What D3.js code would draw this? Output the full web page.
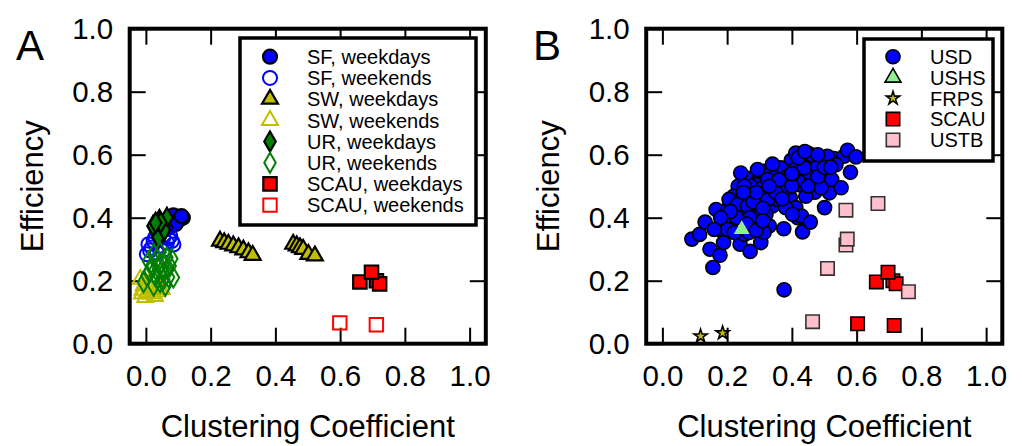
<!DOCTYPE html>
<html>
<head>
<meta charset="utf-8">
<script src="https://cdn.jsdelivr.net/npm/d3@7"></script>
<style>
  html, body { margin: 0; padding: 0; background: #fff; }
  svg { display: block; font-family: "Liberation Sans", Arial, Helvetica, sans-serif; }
</style>
</head>
<body>
<svg id="chart" width="1022" height="446"></svg>
<script>
// ---------------- DATA ----------------
const xTicks = [0, 0.2, 0.4, 0.6, 0.8, 1.0];
const yTicks = [0, 0.2, 0.4, 0.6, 0.8, 1.0];
const xTitle = "Clustering Coefficient";
const yTitle = "Efficiency";

// Panel A
const sfWeekdays = [[0.080,0.395],[0.096,0.403],[0.106,0.397],[0.090,0.389],[0.070,0.382],[0.085,0.407],[0.114,0.400],[0.100,0.392],
                    [0.075,0.372],[0.092,0.380],[0.110,0.405],[0.060,0.365]];
const sfWeekends = [[0.003,0.284],[0.008,0.316],[0.024,0.326],[0.044,0.311],[0.065,0.321],[0.080,0.326],[0.034,0.289],[0.054,0.337],
                    [0.018,0.305],[0.075,0.342],[0.013,0.296],[0.029,0.338],[0.059,0.300],[0.070,0.335],[0.040,0.345],[0.085,0.315]];
const swWeekdays = [[0.229,0.326],[0.242,0.321],[0.255,0.316],[0.270,0.311],[0.286,0.305],[0.301,0.298],[0.317,0.289],[0.330,0.281],
                    [0.455,0.316],[0.466,0.311],[0.476,0.305],[0.486,0.300],[0.502,0.284],[0.522,0.279]];
const swWeekends = [[-0.012,0.158],[0.003,0.163],[0.018,0.158],[0.034,0.165],[0.049,0.172],[-0.007,0.184],[0.013,0.174],[-0.017,0.205],
                    [-0.002,0.147],[0.028,0.150],[0.008,0.190],[0.040,0.180],[-0.010,0.170]];
const urWeekdays = [[0.042,0.393],[0.029,0.363],[0.054,0.374],[0.034,0.353],[0.065,0.400],[0.049,0.353],[0.022,0.374],
                    [0.038,0.338],[0.057,0.360],[0.046,0.385],[0.030,0.384]];
const urWeekends = [[0.003,0.216],[0.018,0.247],[0.034,0.268],[0.054,0.226],[0.070,0.211],[0.065,0.274],[0.044,0.195],[0.024,0.184],
                    [0.039,0.237],[0.075,0.247],[-0.007,0.195],[0.060,0.184],[0.049,0.258],[0.029,0.216],[0.013,0.230],
                    [0.024,0.285],[0.044,0.290],[0.080,0.270],[0.085,0.210],[0.008,0.262],[0.055,0.205],[0.035,0.205],[0.068,0.240]];
const scauWeekdays = [[0.661,0.196],[0.712,0.200],[0.722,0.190],[0.697,0.227]];
const scauWeekends = [[0.599,0.066],[0.712,0.060]];

// Panel B
const usd = [[0.091,0.332],[0.115,0.347],[0.132,0.386],[0.147,0.300],[0.156,0.242],[0.178,0.281],[0.166,0.426],[0.172,0.363],
  [0.189,0.321],[0.203,0.428],[0.211,0.382],[0.240,0.316],[0.271,0.293],[0.304,0.321],[0.306,0.382],[0.253,0.347],[0.278,0.421],
  [0.302,0.458],[0.265,0.479],[0.261,0.526],[0.234,0.500],[0.220,0.468],[0.191,0.395],[0.299,0.521],[0.314,0.547],[0.345,0.505],
  [0.340,0.437],[0.330,0.374],[0.375,0.365],[0.361,0.542],[0.387,0.552],[0.395,0.463],[0.412,0.432],[0.418,0.400],[0.430,0.405],
  [0.433,0.355],[0.457,0.386],[0.421,0.505],[0.430,0.544],[0.449,0.605],[0.464,0.565],[0.471,0.481],[0.499,0.542],[0.501,0.432],
  [0.516,0.479],[0.523,0.521],[0.552,0.495],[0.490,0.588],[0.530,0.588],[0.561,0.595],[0.572,0.614],[0.581,0.544],[0.598,0.593],
  [0.398,0.582],[0.423,0.573],[0.366,0.558],[0.335,0.542],[0.289,0.505],[0.253,0.458],[0.242,0.416],[0.278,0.374],[0.320,0.411],
  [0.356,0.458],[0.376,0.489],[0.443,0.468],[0.459,0.521],[0.490,0.495],[0.412,0.605],[0.438,0.584],[0.469,0.589],[0.510,0.595],
  [0.536,0.568],[0.206,0.458],[0.232,0.442],[0.263,0.437],[0.294,0.405],[0.325,0.458],[0.314,0.500],[0.273,0.500],[0.294,0.553],
  [0.242,0.542],[0.201,0.363],[0.222,0.353],[0.268,0.353],[0.314,0.353],[0.160,0.363],[0.253,0.500],[0.325,0.521],[0.387,0.531],
  [0.407,0.552],[0.438,0.515],[0.381,0.432],[0.402,0.411],[0.454,0.542],[0.479,0.563],[0.438,0.558],[0.376,0.171],
  [0.280,0.450],[0.350,0.480],[0.310,0.430],[0.270,0.400],[0.230,0.400],[0.360,0.520],[0.400,0.500],[0.450,0.500],[0.480,0.530],
  [0.500,0.560],[0.420,0.590],[0.460,0.600],[0.340,0.570],[0.290,0.480],[0.250,0.480],[0.210,0.420],[0.180,0.400],[0.330,0.500],
  [0.370,0.460],[0.260,0.380],[0.290,0.360],[0.480,0.600],[0.440,0.610],[0.520,0.560],[0.400,0.540],[0.310,0.390]];
const ushs = [[0.245,0.363]];
const frps = [[0.118,0.024],[0.186,0.034]];
const scau = [[0.661,0.196],[0.712,0.200],[0.722,0.190],[0.697,0.227],[0.603,0.063],[0.716,0.058]];
const ustb = [[0.567,0.424],[0.666,0.445],[0.567,0.313],[0.571,0.332],[0.510,0.239],[0.760,0.165],[0.464,0.070]];

const legendA = ["SF, weekdays","SF, weekends","SW, weekdays","SW, weekends","UR, weekdays","UR, weekends","SCAU, weekdays","SCAU, weekends"];
const legendB = ["USD","USHS","FRPS","SCAU","USTB"];

// ---------------- STYLES ----------------
const sym = {
  circle:   { type: d3.symbolCircle,   size: 155 },
  triangle: { type: d3.symbolTriangle, size: 110 },
  diamond:  { type: d3.symbolDiamond,  size: 115 },
  square:   { type: d3.symbolSquare,   size: 180 },
  star:     { type: d3.symbolStar,     size: 55 }
};
const seriesA = [
  { data: sfWeekdays,   shape: "circle",   fill: "#0000ff", stroke: "#000", sw: 2.2 },
  { data: sfWeekends,   shape: "circle",   fill: "none",    stroke: "#0000ff", sw: 2 },
  { data: swWeekdays,   shape: "triangle", fill: "#bfbf00", stroke: "#000", sw: 2.2 },
  { data: swWeekends,   shape: "triangle", fill: "none",    stroke: "#bfbf00", sw: 2 },
  { data: urWeekdays,   shape: "diamond",  fill: "#007f00", stroke: "#000", sw: 2.2 },
  { data: urWeekends,   shape: "diamond",  fill: "none",    stroke: "#007f00", sw: 2 },
  { data: scauWeekdays, shape: "square",   fill: "#ff0000", stroke: "#000", sw: 2.2 },
  { data: scauWeekends, shape: "square",   fill: "none",    stroke: "#ff0000", sw: 2 }
];
const seriesB = [
  { data: usd,  shape: "circle",   fill: "#0000ff", stroke: "#000", sw: 1.6 },
  { data: ushs, shape: "triangle", fill: "#90ee90", stroke: "none", sw: 0 },
  { data: frps, shape: "star",     fill: "#bfbf00", stroke: "#000", sw: 1.6 },
  { data: scau, shape: "square",   fill: "#ff0000", stroke: "#000", sw: 1.6 },
  { data: ustb, shape: "square",   fill: "#ffc0cb", stroke: "#333", sw: 1.6 }
];
const legendBStyles = [
  seriesB[0], { shape: "triangle", fill: "#90ee90", stroke: "#000", sw: 1.6 }, seriesB[2], seriesB[3], seriesB[4]
];

const svg = d3.select("#chart");
const FONT_TICK = 29.5, FONT_TITLE = 31;

function drawPanel(cfg) {
  const x = d3.scaleLinear().domain([-0.05, 1.05]).range([cfg.left, cfg.right]);
  const y = d3.scaleLinear().domain([0, 1]).range([cfg.bottom, cfg.top]);
  const g = svg.append("g");

  const fmt = d3.format(".1f");
  const styleAxis = sel => {
    sel.select(".domain").remove();
    sel.selectAll(".tick line").attr("stroke", "#000").attr("stroke-width", 2);
    sel.attr("font-size", FONT_TICK).attr("font-family", null);
    sel.selectAll("text").attr("fill", "#000");
  };
  g.append("g").attr("transform", `translate(0,${cfg.bottom})`)
    .call(d3.axisBottom(x).tickValues(xTicks).tickFormat(fmt).tickSize(-16).tickPadding(21)).call(styleAxis);
  g.append("g").attr("transform", `translate(0,${cfg.top})`)
    .call(d3.axisTop(x).tickValues(xTicks).tickFormat("").tickSize(-16)).call(styleAxis);
  g.append("g").attr("transform", `translate(${cfg.left},0)`)
    .call(d3.axisLeft(y).tickValues(yTicks).tickFormat(fmt).tickSize(-16).tickPadding(16.5)).call(styleAxis);
  g.append("g").attr("transform", `translate(${cfg.right},0)`)
    .call(d3.axisRight(y).tickValues(yTicks).tickFormat("").tickSize(-16)).call(styleAxis);

  // data
  cfg.series.forEach(s => {
    g.append("g").selectAll("path").data(s.data).join("path")
      .attr("d", d3.symbol().type(sym[s.shape].type).size(sym[s.shape].size))
      .attr("transform", d => `translate(${x(d[0])},${y(d[1])})`)
      .attr("fill", s.fill).attr("stroke", s.stroke).attr("stroke-width", s.sw);
  });

  // frame
  g.append("rect").attr("x", cfg.left).attr("y", cfg.top)
    .attr("width", cfg.right - cfg.left).attr("height", cfg.bottom - cfg.top)
    .attr("fill", "none").attr("stroke", "#000").attr("stroke-width", 4);

  // legend
  const L = cfg.legend;
  const lg = g.append("g");
  lg.append("rect").attr("x", L.x0).attr("y", L.y0).attr("width", L.x1 - L.x0).attr("height", L.y1 - L.y0)
    .attr("fill", "#fff").attr("stroke", "#000").attr("stroke-width", 3.5);
  L.labels.forEach((lab, i) => {
    const s = L.styles[i];
    const yy = L.rowY + i * L.rowH;
    lg.append("path")
      .attr("d", d3.symbol().type(sym[s.shape].type).size(sym[s.shape].size)())
      .attr("transform", `translate(${L.mx},${yy})`)
      .attr("fill", s.fill).attr("stroke", s.stroke).attr("stroke-width", s.sw);
    lg.append("text").attr("x", L.tx).attr("y", yy).attr("dy", "0.36em")
      .attr("font-size", 20).text(lab);
  });

  // titles
  g.append("text").attr("x", (cfg.left + cfg.right) / 2).attr("y", 437)
    .attr("text-anchor", "middle").attr("font-size", FONT_TITLE).text(xTitle);
  g.append("text").attr("transform", `translate(${cfg.left - 87},${(cfg.top + cfg.bottom) / 2}) rotate(-90)`)
    .attr("text-anchor", "middle").attr("font-size", FONT_TITLE).text(yTitle);
  g.append("text").attr("x", cfg.labelX).attr("y", 60).attr("font-size", 42).text(cfg.id);
}

drawPanel({
  id: "A", left: 129.7, right: 485.8, top: 28.7, bottom: 343.7, labelX: 16,
  series: seriesA,
  legend: { x0: 240, y0: 38, x1: 476, y1: 225, rowY: 56.7, rowH: 21.2, mx: 270, tx: 307, labels: legendA, styles: seriesA }
});
drawPanel({
  id: "B", left: 646.2, right: 1002.3, top: 28.7, bottom: 343.7, labelX: 533,
  series: seriesB,
  legend: { x0: 864, y0: 39, x1: 993, y1: 161, rowY: 56.7, rowH: 20.8, mx: 893, tx: 930, labels: legendB, styles: legendBStyles }
});
</script>
</body>
</html>
